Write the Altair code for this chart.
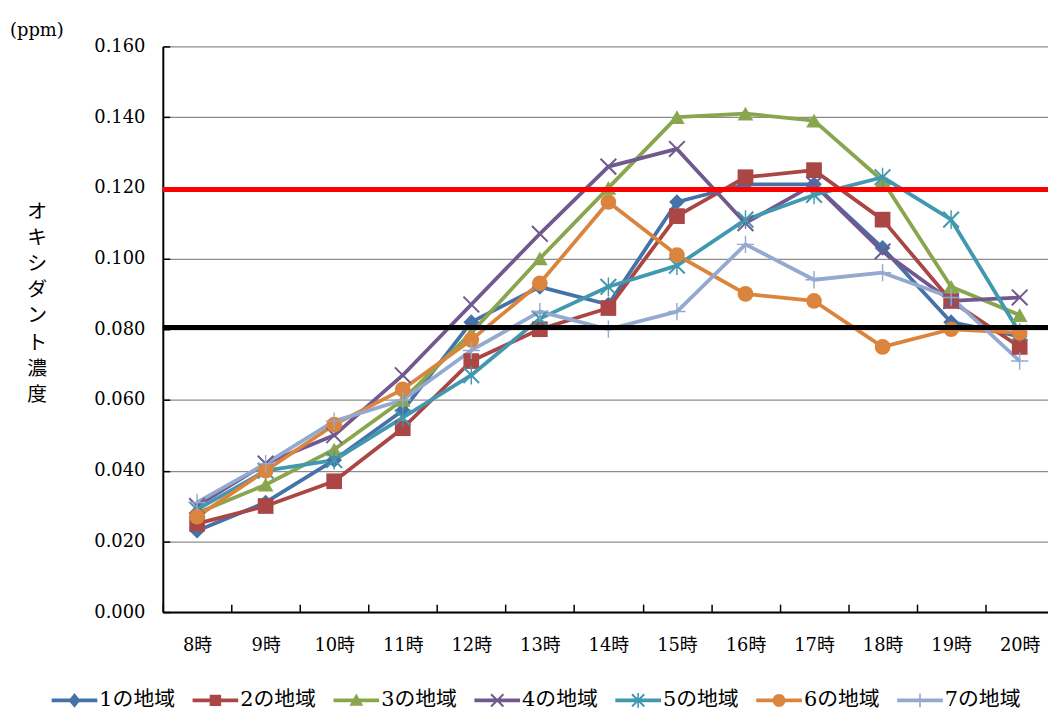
import altair as alt
import pandas as pd

hours = ["8時", "9時", "10時", "11時", "12時", "13時", "14時",
         "15時", "16時", "17時", "18時", "19時", "20時"]
series = ["1の地域", "2の地域", "3の地域", "4の地域", "5の地域", "6の地域", "7の地域"]

s1 = [0.023, 0.031, 0.043, 0.057, 0.082, 0.092, 0.087, 0.116, 0.121, 0.121, 0.103, 0.082, 0.078]
s2 = [0.025, 0.030, 0.037, 0.052, 0.071, 0.080, 0.086, 0.112, 0.123, 0.125, 0.111, 0.088, 0.075]
s3 = [0.028, 0.036, 0.046, 0.060, 0.079, 0.100, 0.120, 0.140, 0.141, 0.139, 0.122, 0.092, 0.084]
s4 = [0.030, 0.042, 0.050, 0.067, 0.087, 0.107, 0.126, 0.131, 0.110, 0.121, 0.102, 0.088, 0.089]
s5 = [0.029, 0.040, 0.043, 0.055, 0.067, 0.083, 0.092, 0.098, 0.111, 0.118, 0.123, 0.111, 0.079]
s6 = [0.027, 0.040, 0.053, 0.063, 0.077, 0.093, 0.116, 0.101, 0.090, 0.088, 0.075, 0.080, 0.079]
s7 = [0.031, 0.042, 0.054, 0.060, 0.074, 0.085, 0.080, 0.085, 0.104, 0.094, 0.096, 0.089, 0.071]

colors = ["#4572A7", "#AA4643", "#89A54E", "#71588F", "#4198AF", "#DB843D", "#93A9CF"]
limit_red = 0.1195
limit_black = 0.0805
y_ticks = [0.0, 0.02, 0.04, 0.06, 0.08, 0.10, 0.12, 0.14, 0.16]
y_title = list("オキシダント濃度")

# marker shapes on the chart
chart_shapes = [
    "diamond",
    "square",
    "triangle-up",
    "M-1.09,-0.91L0.91,1.09L1.09,0.91L-0.91,-1.09Z M-0.91,1.09L1.09,-0.91L0.91,-1.09L-1.09,0.91Z",
    "M-1.09,-0.91L0.91,1.09L1.09,0.91L-0.91,-1.09Z M-0.91,1.09L1.09,-0.91L0.91,-1.09L-1.09,0.91Z M-0.09,-1.2V1.2H0.09V-1.2Z",
    "circle",
    "M-1.1,-0.09V0.09H1.1V-0.09Z M-0.09,-1.1V1.1H0.09V-1.1Z",
]
# legend symbols: line + marker
LINE = "M-1,-0.085V0.085H1V-0.085Z "
XB = "M-0.30,-0.24L0.24,0.30L0.30,0.24L-0.24,-0.30Z M-0.24,0.30L0.30,-0.24L0.24,-0.30L-0.30,0.24Z "
legend_shapes = [
    LINE + "M0,-0.32L-0.26,0L0,0.32L0.26,0Z",
    LINE + "M-0.25,-0.25V0.25H0.25V-0.25Z",
    LINE + "M0,-0.3L-0.3,0.24H0.3Z",
    LINE + XB,
    LINE + XB + "M-0.035,-0.32V0.32H0.035V-0.32Z",
    LINE + "M-0.28,0A0.28,0.28,0,1,0,0.28,0A0.28,0.28,0,1,0,-0.28,0Z",
    LINE + "M-0.3,-0.035V0.035H0.3V-0.035Z M-0.035,-0.3V0.3H0.035V-0.3Z",
]

rows = []
for name, vals in zip(series, [s1, s2, s3, s4, s5, s6, s7]):
    for h, v in zip(hours, vals):
        rows.append({"hour": h, "series": name, "value": v})
df = pd.DataFrame(rows)

SERIF = "DejaVu Serif, Noto Sans CJK JP"
W, H = 892, 570

x_enc = alt.X(
    "hour:N", sort=hours, bandPosition=0.5,
    scale=alt.Scale(type="band", domain=hours, range=[0, 898], paddingInner=0, paddingOuter=0),
    axis=alt.Axis(title=None, tickBand="extent", tickSize={"expr": "-8"}, tickColor="black",
                  tickWidth=1.5, domainColor="black", domainWidth=2, grid=False, labelAngle=0,
                  labelFont=SERIF, labelFontSize=18, labelColor="black", labelPadding=33,
                  labelBaseline="top"),
)
y_enc = alt.Y(
    "value:Q",
    scale=alt.Scale(domain=[0, 0.16], nice=False, zero=True),
    axis=alt.Axis(values=y_ticks, format=".3f", grid=True, gridColor="#8c8c8c", gridWidth=1.2,
                  domainColor="black", domainWidth=2, tickSize={"expr": "-7"}, tickColor="black",
                  tickWidth=1.5, labelFont=SERIF, labelFontSize=18, labelColor="black",
                  labelPadding=25, title=y_title, titleAngle=0, titleX=-127, titleY=166,
                  titleAlign="center", titleBaseline="middle", titleFont="Noto Sans CJK JP",
                  titleFontSize=20, titleLineHeight=26.4, titleFontWeight="normal",
                  titleColor="black"),
)

lines = alt.Chart(df).mark_line(strokeWidth=3.8, strokeJoin="round").encode(
    x=x_enc, y=y_enc,
    color=alt.Color("series:N", scale=alt.Scale(domain=series, range=colors), legend=None),
)
points = alt.Chart(df).mark_point(filled=True, size=250, opacity=1, strokeWidth=0).encode(
    x=x_enc, y=y_enc,
    fill=alt.Fill("series:N", scale=alt.Scale(domain=series, range=colors), legend=None),
    shape=alt.Shape("series:N", scale=alt.Scale(domain=series, range=chart_shapes), legend=None),
)
leg = alt.Legend(orient="none", legendX=-112, legendY=636, direction="horizontal", title=None,
                 symbolSize=2116, symbolStrokeWidth=0, labelFont=SERIF, labelFontSize=21,
                 labelColor="black", labelOffset=2, columnPadding=17, padding=0,
                 symbolOpacity=1, columns=7, labelLimit=0)
legend_layer = alt.Chart(df).transform_filter("false").mark_point(
    filled=True, size=2116, opacity=1, strokeWidth=0).encode(
    x=x_enc, y=y_enc,
    fill=alt.Fill("series:N", scale=alt.Scale(domain=series, range=colors), legend=leg),
    shape=alt.Shape("series:N", scale=alt.Scale(domain=series, range=legend_shapes), legend=leg),
)
ref_df = pd.DataFrame({"v": [limit_red, limit_black], "c": ["red", "black"]})
rules = alt.Chart(ref_df).mark_rule(strokeWidth=5).encode(
    y=alt.Y("v:Q"),
    stroke=alt.Stroke("c:N", scale=None, legend=None),
)

chart = alt.layer(lines, points, legend_layer, rules).resolve_scale(
    fill="independent", shape="independent", stroke="independent"
).properties(
    width=W, height=H,
    padding={"left": 156, "top": 36, "right": 0, "bottom": 100},
    autosize=alt.AutoSizeParams(type="none"),
    background="white",
    title=alt.TitleParams(text="(ppm)", anchor="start", frame="group", dx=-154, offset=-2,
                          font="DejaVu Serif", fontSize=18, fontWeight="normal", color="black",
                          orient="top"),
).configure_view(stroke=None)

chart.save("out.html", embed_options={"renderer": "svg", "actions": False})
